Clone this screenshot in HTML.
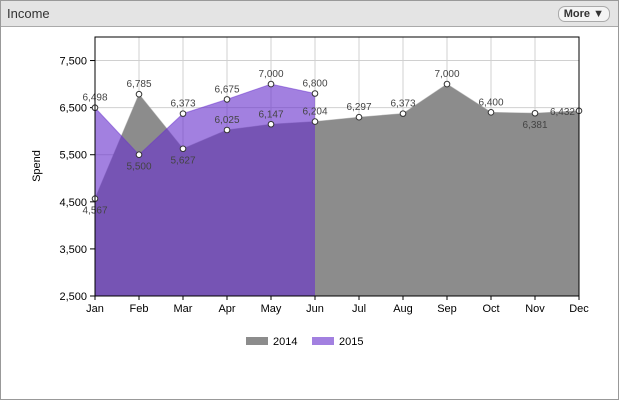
<!DOCTYPE html>
<html><head><meta charset="utf-8"><style>
body{margin:0;width:619px;height:400px;font-family:"Liberation Sans",sans-serif;background:#fff;overflow:hidden}
#panel{position:absolute;left:0;top:0;width:617px;height:398px;border:1px solid #999}
#hdr{position:absolute;left:0;top:0;width:617px;height:25px;background:#e4e4e4;border-bottom:1px solid #aaa}
#title{position:absolute;left:6px;top:5px;font-size:13px;color:#333}
#more{position:absolute;right:8px;top:5px;height:14px;padding:0 5px;border:1px solid #aaa;border-radius:7px;background:#f4f4f4;font-size:11px;font-weight:bold;color:#333;line-height:14px}
svg{position:absolute;left:0;top:0}
</style></head><body>
<div id="panel">
<div id="hdr">
<div id="title">Income</div>
<div id="more">More ▼</div>
</div></div>
<svg id="chart" width="619" height="400"></svg>
<script>
const months=["Jan","Feb","Mar","Apr","May","Jun","Jul","Aug","Sep","Oct","Nov","Dec"];
const s2014=[4567,6785,5627,6025,6147,6204,6297,6373,7000,6400,6381,6432];
const s2015=[6498,5500,6373,6675,7000,6800];
const yTicks=[2500,3500,4500,5500,6500,7500];
const pos2014=["below","above","below","above","above","above","above","above","above","above","below","left"];
const pos2015=["above","below","above","above","above","above"];
const L=95,R=579,T=37,B=296,ymin=2500,ymax=8000;
const x=i=>L+i*(R-L)/11;
const y=v=>B-(v-ymin)/(ymax-ymin)*(B-T);
const svg=document.getElementById('chart');
const NS='http://www.w3.org/2000/svg';
function mk(t,a){const e=document.createElementNS(NS,t);for(const k in a)e.setAttribute(k,a[k]);svg.appendChild(e);return e;}
const fmt=v=>v.toLocaleString('en-US');
months.forEach((m,i)=>{
 const g=mk('line',{x1:x(i),x2:x(i),y1:T,y2:B,stroke:'#d0d0d0'});
 
 const tk=mk('line',{x1:x(i),x2:x(i),y1:B,y2:B+4,stroke:'#000'});
 
 const t=mk('text',{x:x(i),y:B+16,'text-anchor':'middle','font-size':11,fill:'#000'});t.textContent=m;
 
});
yTicks.forEach(v=>{
 const g=mk('line',{x1:L,x2:R,y1:y(v),y2:y(v),stroke:'#d0d0d0'});
 
 const tk=mk('line',{x1:L-5,x2:L,y1:y(v),y2:y(v),stroke:'#000'});
 
 const t=mk('text',{x:L-8,y:y(v)+4,'text-anchor':'end','font-size':11,fill:'#000'});t.textContent=fmt(v);
 
});
function area(data,fill,op,name){
 let d=`M${x(0)},${B}`;data.forEach((v,i)=>d+=` L${x(i)},${y(v)}`);d+=` L${x(data.length-1)},${B}Z`;
 const p=mk('path',{d,fill,'fill-opacity':op,stroke:'none'});
 
 let dl=`M${x(0)},${y(data[0])}`;data.forEach((v,i)=>dl+=` L${x(i)},${y(v)}`);
 mk('path',{d:dl,fill:'none',stroke:fill,'stroke-opacity':0.5,'stroke-width':1});
}
area(s2014,'#8c8c8c',1,'area-2014');
area(s2015,'rgb(105,50,205)',0.62,'area-2015');
function pts(data,pos,name){
 data.forEach((v,i)=>{
  const c=mk('circle',{cx:x(i),cy:y(v),r:2.8,fill:'#fff',stroke:'#333','stroke-width':1});
  
  let tx=x(i),ty=y(v)-7,an='middle';
  if(pos[i]==='below')ty=y(v)+15;if(pos[i]==='left'){tx=x(i)-4;ty=y(v)+4;an='end';}
  const t=mk('text',{x:tx,y:ty,'text-anchor':an,'font-size':10,fill:'#444'});t.textContent=fmt(v);
  
 });
}
pts(s2014,pos2014,'series-2014');
pts(s2015,pos2015,'series-2015');
const bx=mk('rect',{x:L,y:T,width:R-L,height:B-T,fill:'none',stroke:'#000','stroke-width':1});

const yt=mk('text',{x:40,y:166,'text-anchor':'middle','font-size':11,fill:'#000',transform:'rotate(-90 40 166)'});yt.textContent='Spend';

[['2014','#8c8c8c',246],['2015','#a280e0',312]].forEach(([n,c,lx])=>{
 const r=mk('rect',{x:lx,y:337,width:22,height:8,fill:c});
 
 const t=mk('text',{x:lx+27,y:345,'font-size':11,fill:'#000'});t.textContent=n;
 
});
</script>
</body></html>
